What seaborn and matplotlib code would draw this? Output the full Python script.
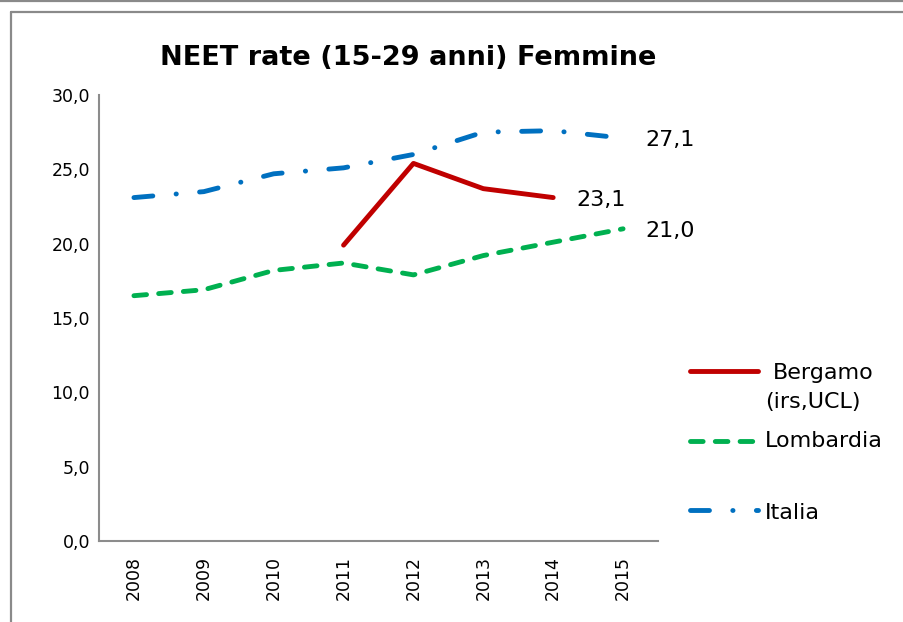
import numpy as np
import pandas as pd
import seaborn as sns
import matplotlib.pyplot as plt
from matplotlib.lines import Line2D
from matplotlib.ticker import FuncFormatter

# --- data -------------------------------------------------------------
years = ["2008", "2009", "2010", "2011", "2012", "2013", "2014", "2015"]
bergamo = [np.nan, np.nan, np.nan, 19.9, 25.4, 23.7, 23.1, np.nan]
lombardia = [16.5, 16.9, 18.2, 18.7, 17.9, 19.2, 20.1, 21.0]
italia = [23.1, 23.5, 24.7, 25.1, 26.0, 27.5, 27.6, 27.1]
series_labels = [" Bergamo\n(irs,UCL)", "Lombardia", "Italia"]
title = "NEET rate (15-29 anni) Femmine"
y_ticks = [0, 5, 10, 15, 20, 25, 30]

# --- styling ----------------------------------------------------------
sns.set_style("white")
plt.rcParams["font.family"] = ["DejaVu Sans"]
plt.rcParams["text.color"] = "black"
plt.rcParams["xtick.color"] = "black"
plt.rcParams["ytick.color"] = "black"

RED, GREEN, BLUE = "#C00000", "#00B050", "#0070C0"
AXIS_GREY = "#8c8c8c"
LW = 3.5
styles = {
    "Bergamo": dict(color=RED, linestyle="-"),
    "Lombardia": dict(color=GREEN, linestyle=(0, (2.6, 2.5))),
    "Italia": dict(color=BLUE, linestyle=(0, (3.9, 4.8, 0.05, 4.8))),
}

df = pd.DataFrame({
    "pos": np.arange(len(years)),
    "year": years,
    "Bergamo": bergamo,
    "Lombardia": lombardia,
    "Italia": italia,
})

W, H = 904, 622
fig = plt.figure(figsize=(W / 100, H / 100), dpi=100)
ax = fig.add_axes([99 / W, 1 - 541 / H, (658 - 99) / W, (541 - 95) / H])

for name in ["Italia", "Lombardia", "Bergamo"]:
    sub = df[["pos", name]].dropna()
    sns.lineplot(data=sub, x="pos", y=name, ax=ax, linewidth=LW,
                 errorbar=None, legend=False, solid_capstyle="round",
                 dash_capstyle="round", **styles[name])

# value labels at the end of each series
for name, dx in [("Italia", 16), ("Lombardia", 16), ("Bergamo", 17)]:
    sub = df[["pos", name]].dropna()
    x_last, v_last = sub["pos"].iloc[-1], sub[name].iloc[-1]
    ax.annotate(f"{v_last:.1f}".replace(".", ","), xy=(x_last, v_last),
                xytext=(dx, -1.5), textcoords="offset points",
                ha="left", va="center", fontsize=16, color="black")

# axes
ax.set_xlim(-0.5, len(years) - 0.5)
ax.set_ylim(0, 30)
ax.set_xticks(df["pos"])
ax.set_xticklabels(years, rotation=90, fontsize=12.5)
ax.set_xticks(np.arange(-0.5, len(years)), minor=True)
ax.tick_params(axis="x", which="major", length=0, pad=11)
ax.tick_params(axis="x", which="minor", length=6, width=1.5,
               color=AXIS_GREY, direction="out")
ax.set_yticks(y_ticks)
ax.yaxis.set_major_formatter(FuncFormatter(lambda v, _: f"{v:.1f}".replace(".", ",")))
ax.tick_params(axis="y", length=5, width=1.5, color=AXIS_GREY,
               direction="out", labelsize=12.5, pad=1.5)
ax.set_xlabel("")
ax.set_ylabel("")
for s in ["top", "right"]:
    ax.spines[s].set_visible(False)
for s in ["left", "bottom"]:
    ax.spines[s].set_color(AXIS_GREY)
    ax.spines[s].set_linewidth(1.5)
ax.grid(False)

# title
fig.text(408 / W, 1 - 58 / H, title, ha="center", va="center",
         fontsize=19.5, fontweight="bold", color="black")

# legend drawn at fixed figure positions
def fy(py):
    return 1 - py / H

legend_rows = [("Bergamo", 371, 773, 373), ("Lombardia", 441, 765, 441),
               ("Italia", 510, 765, 513)]
for (name, ly, tx, ty), label in zip(legend_rows, series_labels):
    st = styles[name]
    fig.add_artist(Line2D([690 / W, 758 / W], [fy(ly), fy(ly)],
                          transform=fig.transFigure, color=st["color"],
                          linestyle=st["linestyle"], linewidth=LW,
                          solid_capstyle="round", dash_capstyle="round"))
    if name == "Bergamo":
        lines = label.split("\n")
        fig.text(tx / W, fy(ty), lines[0].strip(), ha="left", va="center", fontsize=16)
        fig.text(765 / W, fy(402), lines[1], ha="left", va="center", fontsize=16)
    else:
        fig.text(tx / W, fy(ty), label, ha="left", va="center", fontsize=16)

# chart-area frame
frame_kw = dict(transform=fig.transFigure, color="#8a8a8a", linewidth=1.6)
fig.add_artist(Line2D([0, 1], [fy(0.8), fy(0.8)], **frame_kw))
fig.add_artist(Line2D([10.5 / W, 1], [fy(11.5), fy(11.5)], **frame_kw))
fig.add_artist(Line2D([10.5 / W, 10.5 / W], [fy(11.5), 0], **frame_kw))

fig.savefig("out.png", dpi=100, facecolor="white")
